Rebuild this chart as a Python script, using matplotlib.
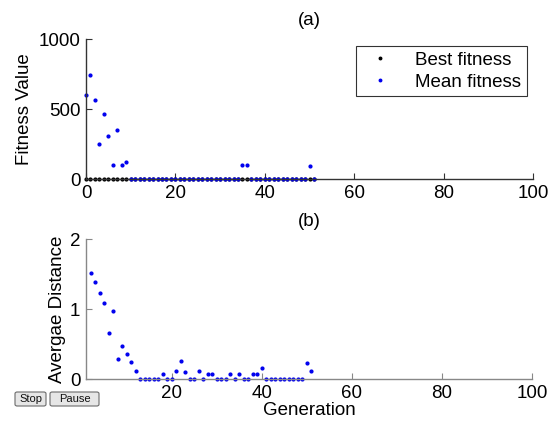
import matplotlib
matplotlib.use("Agg")
import matplotlib.pyplot as plt
from matplotlib.patches import FancyBboxPatch

plt.rcParams['font.family'] = ['Liberation Sans', 'DejaVu Sans']

# ---- data ----
gen_top = list(range(0, 52))
best_fitness = [0] * 52
mean_fitness = [600, 740, 564, 248, 462, 310, 98, 352, 98, 121] + [0] * 25 + [98, 98] + [0] * 13 + [95, 0]

gen_bottom = list(range(2, 52))
avg_distance = [1.52, 1.39, 1.23, 1.09, 0.66, 0.97, 0.29, 0.47, 0.36, 0.24, 0.11,  # 2-12
                0, 0, 0, 0, 0, 0.07, 0, 0,                                      # 13-20
                0.11, 0.26, 0.10, 0, 0, 0.11, 0, 0.07, 0.07,                     # 21-29
                0, 0, 0, 0.07, 0, 0.07, 0, 0, 0.07, 0.07, 0.16,                  # 30-40
                0, 0, 0, 0, 0, 0, 0, 0, 0, 0.23, 0.11]                           # 41-51

xticks = [0, 20, 40, 60, 80, 100]
yticks_top = [0, 500, 1000]
yticks_bottom = [0, 1, 2]
button_labels = ['Stop', 'Pause']

W, H = 551, 424
fig = plt.figure(figsize=(W / 100, H / 100), dpi=100)

FS = 13.5
BLUE = '#0000ee'
MS = 4

def style(ax, col):
    for s in ['top', 'right']:
        ax.spines[s].set_visible(False)
    for s in ['left', 'bottom']:
        ax.spines[s].set_color(col)
        ax.spines[s].set_linewidth(1.0)
    ax.tick_params(direction='in', length=4, width=0.8, color=col, labelsize=FS, pad=4)

# top axes
ax1 = fig.add_axes([86 / W, 1 - 179 / H, (533 - 86) / W, (179 - 39) / H])
ax1.plot(gen_top, best_fitness, linestyle='none', marker='.', markersize=MS, color='black',
         label='Best fitness', clip_on=False)
ax1.plot(gen_top, mean_fitness, linestyle='none', marker='.', markersize=MS, color=BLUE,
         label='Mean fitness', clip_on=False)
ax1.set_xlim(0, 100)
ax1.set_ylim(0, 1000)
ax1.set_xticks(xticks)
ax1.set_yticks(yticks_top)
ax1.set_ylabel('Fitness Value', fontsize=FS, labelpad=4)
ax1.set_title('(a)', fontsize=FS, pad=10)
style(ax1, '#333333')
leg = ax1.legend(loc='upper right', bbox_to_anchor=(1 - 6 / 447, 1 - 7 / 140), fontsize=FS,
                 frameon=True, fancybox=False, edgecolor='black', handlelength=1.9,
                 handletextpad=0.95, borderpad=0.3, labelspacing=0.25, borderaxespad=0,
                 markerscale=0.9)
leg.get_frame().set_linewidth(0.8)

# bottom axes
ax2 = fig.add_axes([86 / W, 1 - 379 / H, (532 - 86) / W, (379 - 239) / H])
ax2.plot(gen_bottom, avg_distance, linestyle='none', marker='.', markersize=MS, color=BLUE, clip_on=False)
ax2.set_xlim(1, 100)
ax2.set_ylim(0, 2)
ax2.set_xticks(xticks[1:])
ax2.set_yticks(yticks_bottom)
ax2.set_ylabel('Avergae Distance', fontsize=FS, labelpad=3)
ax2.set_xlabel('Generation', fontsize=FS, labelpad=0)
ax2.set_title('(b)', fontsize=FS, pad=9)
style(ax2, '#888888')

# buttons (figure pixel boxes)
for label, (x0, x1) in zip(button_labels, [(15, 46), (50, 99)]):
    y0, y1 = 392, 406
    box = FancyBboxPatch((x0 / W, 1 - y1 / H), (x1 - x0) / W, (y1 - y0) / H,
                         boxstyle='round,pad=0,rounding_size=0.004', transform=fig.transFigure,
                         fc='#e6e6e6', ec='#6a6a6a', lw=0.8)
    fig.add_artist(box)
    fig.text((x0 + x1) / 2 / W, 1 - (y0 + y1) / 2 / H, label, fontsize=8, ha='center', va='center',
             color='#111111')

fig.savefig('out.png', dpi=100)
